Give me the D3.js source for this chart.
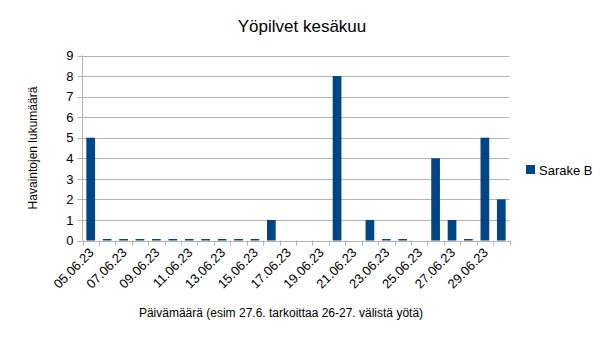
<!DOCTYPE html>
<html lang="fi">
  <head>
    <meta charset="UTF-8" />
    <script src="https://cdnjs.cloudflare.com/ajax/libs/d3/7.8.5/d3.min.js"></script>
    <title>Yöpilvet kesäkuu</title>
    <style>
      body { margin: 0; background: white; }
      text { font-family: "Liberation Sans", Arial, sans-serif; fill: #000; }
      .grid line { stroke: #b3b3b3; stroke-width: 1; }
    </style>
  </head>
  <body>
    <script>
      const days = [
        "05.06.23", "06.06.23", "07.06.23", "08.06.23", "09.06.23", "10.06.23",
        "11.06.23", "12.06.23", "13.06.23", "14.06.23", "15.06.23", "16.06.23",
        "17.06.23", "18.06.23", "19.06.23", "20.06.23", "21.06.23", "22.06.23",
        "23.06.23", "24.06.23", "25.06.23", "26.06.23", "27.06.23", "28.06.23",
        "29.06.23", "30.06.23"
      ];
      // null = no observation that night
      const sarakeB = [5, 0, 0, 0, 0, 0, 0, 0, 0, 0, 0, 1, null, null, null, 8,
        null, 1, 0, 0, null, 4, 1, 0, 5, 2];
      const yTicks = [0, 1, 2, 3, 4, 5, 6, 7, 8, 9];

      const W = 605, H = 341;
      const pLeft = 82.5, pRight = 509.5, pTop = 55.5, pBottom = 240.5;

      const svg = d3.select("body").append("svg")
        .attr("width", W).attr("height", H);

      const x = d3.scaleBand().domain(days).range([pLeft, pRight])
        .paddingInner(0.47).paddingOuter(0.235);
      const xb = d3.scaleBand().domain(days).range([pLeft, pRight]);
      const y = d3.scaleLinear().domain([0, 9]).range([pBottom, pTop]);

      // gridlines
      svg.append("g").attr("class", "grid")
        .selectAll("line").data(yTicks).enter().append("line")
        .attr("x1", pLeft).attr("x2", pRight)
        .attr("y1", d => Math.round(y(d)) + 0.5)
        .attr("y2", d => Math.round(y(d)) + 0.5);

      // left axis line + ticks
      svg.append("line")
        .attr("x1", pLeft).attr("x2", pLeft).attr("y1", pTop).attr("y2", pBottom)
        .attr("stroke", "#b3b3b3");
      svg.append("g").selectAll("line").data(yTicks).enter().append("line")
        .attr("x1", pLeft - 5).attr("x2", pLeft)
        .attr("y1", d => Math.round(y(d)) + 0.5)
        .attr("y2", d => Math.round(y(d)) + 0.5)
        .attr("stroke", "#b3b3b3");
      svg.append("g").selectAll("text").data(yTicks).enter().append("text")
        .attr("x", pLeft - 9).attr("y", d => y(d))
        .attr("dy", "0.36em").attr("text-anchor", "end")
        .attr("font-size", 13).text(d => d);

      // bottom ticks at category boundaries
      const bounds = days.map(d => xb(d)).concat([pRight]);
      svg.append("g").selectAll("line").data(bounds).enter().append("line")
        .attr("x1", d => Math.round(d) + 0.5).attr("x2", d => Math.round(d) + 0.5)
        .attr("y1", pBottom).attr("y2", pBottom + 5)
        .attr("stroke", "#b3b3b3");

      // bars
      const barData = days.map((d, i) => ({ day: d, v: sarakeB[i] }))
        .filter(d => d.v !== null);
      svg.append("g").selectAll("rect").data(barData).enter().append("rect")
        .attr("x", d => x(d.day))
        .attr("width", x.bandwidth())
        .attr("y", d => d.v === 0 ? pBottom - 1.5 : y(d.v))
        .attr("height", d => d.v === 0 ? 1.5 : y(0) - y(d.v))
        .attr("fill", "#004586");

      // x labels (every other)
      svg.append("g").selectAll("text")
        .data(days.filter((d, i) => i % 2 === 0)).enter().append("text")
        .attr("transform", d => `translate(${xb(d) + xb.bandwidth() / 2 + 4},${pBottom + 13}) rotate(-45)`)
        .attr("text-anchor", "end").attr("font-size", 13).text(d => d);

      // titles
      svg.append("text").attr("x", 302).attr("y", 32)
        .attr("text-anchor", "middle").attr("font-size", 17)
        .text("Yöpilvet kesäkuu");
      svg.append("text").attr("x", 281).attr("y", 317)
        .attr("text-anchor", "middle").attr("font-size", 12)
        .text("Päivämäärä (esim 27.6. tarkoittaa 26-27. välistä yötä)");
      svg.append("text")
        .attr("transform", `translate(37,${(pTop + pBottom) / 2}) rotate(-90)`)
        .attr("text-anchor", "middle").attr("font-size", 12)
        .text("Havaintojen lukumäärä");

      // legend
      svg.append("rect").attr("x", 526).attr("y", 165)
        .attr("width", 9).attr("height", 9).attr("fill", "#004586");
      svg.append("text").attr("x", 539).attr("y", 170).attr("dy", "0.36em")
        .attr("font-size", 13).text("Sarake B");
    </script>
  </body>
</html>
